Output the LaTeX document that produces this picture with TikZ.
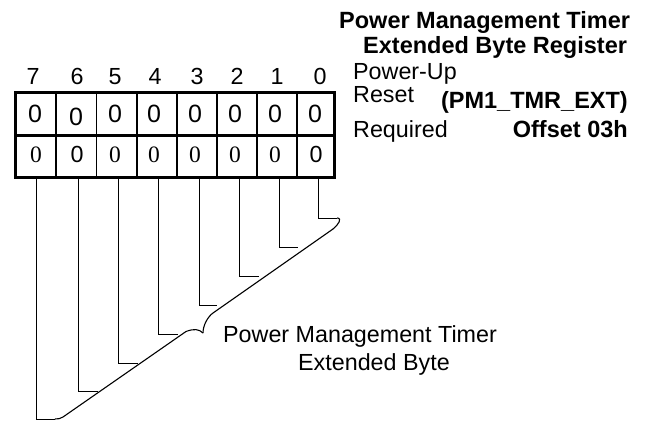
\documentclass[tikz,border=0pt]{standalone}
\usepackage{fontspec}
\setmainfont{Liberation Sans}
\newfontfamily\serifzero{Liberation Serif}
\begin{document}
\begin{tikzpicture}[x=1pt,y=-1pt,
  txt/.style={inner sep=0pt,font=\fontsize{23.3}{27}\selectfont},
  ztxt/.style={inner sep=0pt,font=\fontsize{25}{27}\selectfont},
  btxt/.style={inner sep=0pt,font=\fontsize{23.5}{27}\selectfont\bfseries},
  stxt/.style={inner sep=0pt,font=\fontsize{23.5}{27}\selectfont\serifzero},
  heavy/.style={line width=3pt},
  divider/.style={line width=1.1pt},
  leader/.style={line width=1pt},
  bracepath/.style={line width=1.1pt},
]
\useasboundingbox (0,0) rectangle (649,421);
% register box
\foreach \x in {56,96.5,137,177,217,257,297}
  \draw[divider] (\x,92) -- (\x,177);
\draw[heavy] (15,92) rectangle (334,177);
\draw[heavy] (15,135) -- (334,135);
% bit numbers
\foreach \n/\x in {7/33,6/77,5/115,4/155,3/197,2/237,1/277,0/320}
  \node[txt,anchor=base] (bit\n) at (\x,84) {\n};
% power-up reset row
\foreach \n/\x/\y in {7/35/122,6/76/125,5/115/122,4/154/122,3/195/122,2/235/122,1/275/122,0/315/122}
  \node[ztxt,anchor=base] (r\n) at (\x,\y) {0};
% required row
\foreach \n/\x in {7/36,5/115,4/154,3/195,2/235,1/275}
  \node[stxt,anchor=base] (q\n) at (\x,162) {0};
\node[txt,anchor=base] (q6) at (77,162) {0};
\node[txt,anchor=base] (q0) at (316,162) {0};
% leader lines
\foreach \n/\x/\y/\e in {7/36/419/55,6/78/391/98,5/118/363/138,4/158/334/178,3/199/305/217,2/239/276/259,1/279/247/298,0/318/218/337}{
  \coordinate (t\n) at (\x,177);
  \coordinate (e\n) at (\e,\y);
  \draw[leader] (t\n) |- (e\n);
}
% brace
\coordinate (tip) at (203,333);
\draw[bracepath] (e0) .. controls (343,218) and (338,225) .. (333,229)
  -- (213,313) .. controls (208,316.5) and (203,325) .. (tip);
\draw[bracepath] (tip) .. controls (199,329) and (194,328.5) .. (186,331.5)
  -- (63,417) .. controls (60.5,418.7) and (58,419) .. (e7);
% texts
\node[btxt,anchor=base west] (title1) at (339,28) {Power Management Timer};
\node[btxt,anchor=base west] (title2) at (363,53) {Extended Byte Register};
\node[txt,anchor=base west] (pu) at (353,79) {Power-Up};
\node[txt,anchor=base west] (rs) at (353,102) {Reset};
\node[txt,anchor=base west] (rq) at (353,137) {Required};
\node[btxt,anchor=base east] (pm1) at (628,108) {(PM1\_TMR\_EXT)};
\node[btxt,anchor=base east] (off) at (628,137) {Offset 03h};
\node[txt,anchor=base west] (pmt1) at (223,342) {Power Management Timer};
\node[txt,anchor=base west] (pmt2) at (298,370) {Extended Byte};
\end{tikzpicture}
\end{document}
